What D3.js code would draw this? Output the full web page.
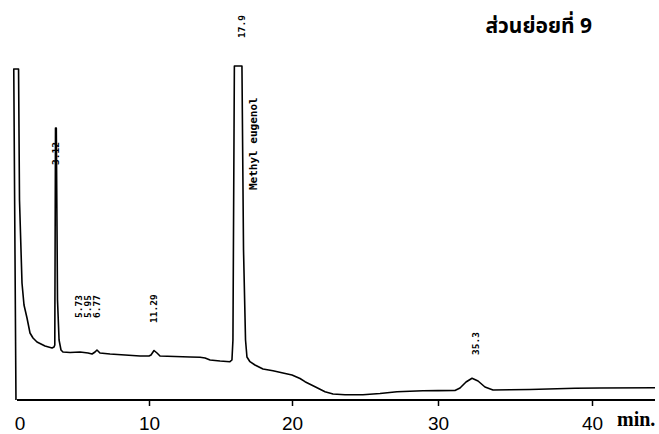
<!DOCTYPE html>
<html><head><meta charset="utf-8">
<script src="https://cdn.jsdelivr.net/npm/d3@7"></script>
<style>
html,body{margin:0;padding:0;background:#fff;}
svg{display:block;}
</style></head>
<body>
<svg id="chart" width="659" height="434"></svg>
<script>
// ---- data ----
const title = "ส่วนย่อยที่ 9";
const xTicks = [0, 10, 20, 30, 40];
const unitLabel = "min.";
// retention time (axis minutes)
const traceTime = [-0.28,-0.45,-0.08,-0.007,0.109,0.186,0.341,0.573,0.805,1.036,1.346,1.964,2.505,2.66,
  2.72,2.775,2.837,2.93,3.05,3.20,3.35,3.90,4.67,5.29,5.60,5.83,5.98,6.21,6.99,8.15,9.31,10,
  10.14,10.35,10.56,10.77,11.82,12.87,13.57,13.92,14.27,14.97,15.66,15.80,
  15.87,15.97,16.50,16.61,16.75,16.85,17.06,17.41,17.97,18.67,19.37,20,
  20.55,20.89,21.58,22.26,22.81,23.63,24.86,26.03,27.19,28.97,30,
  31.10,31.43,31.82,32.21,32.60,33.05,33.57,34.68,35.97,38.90,40.52,44.1];
// detector signal (arbitrary units, clipped at 334)
const traceSignal = [0,331,331,200,150,117,95,82,67,62,58,54,52,53,
  55,272,272,100,60,50,48,47.5,48,47,46,48,50,47,46,45,44,44,
  45,49.5,47,44,43.5,43,42.7,42,40,39,38.3,40,
  60,334,334,150,60,43,38.3,35,31,29.3,27,25,
  21.5,18.3,13.3,8.3,6,5.3,5.3,6.5,8.3,9.3,9.4,
  9.5,12,18,21.7,19,13,10,10.2,10.5,11.7,12,12.3];
const peakTimes = [2.81, 4.59, 5.29, 5.98, 10.35, 16.50, 32.47];
const peakLabels = ["3.12", "5.73", "5.95", "6.77", "11.29", "17.9", "35.3"];
const compoundTime = [17.3];
const compoundName = ["Methyl eugenol"];

// ---- drawing ----
const svg = d3.select("#chart");
const x = d3.scaleLinear()
  .domain([-0.2, 10, 20, 30, 40, 44.1])
  .range([17, 149, 292, 438, 592, 655]);
const y = d3.scaleLinear().domain([0, 334]).range([400, 66]);

// axis
const axis = d3.axisBottom(x).tickValues(xTicks).tickSize(6).tickFormat(d3.format("d"));
const gAx = svg.append("g").attr("transform", "translate(0,400)").call(axis);
gAx.select(".domain").attr("d", `M${x(-0.2)},0H${x(44.1)}`).attr("stroke", "#000").attr("stroke-width", 2);
gAx.selectAll(".tick line").attr("stroke", "#000").attr("stroke-width", 1.5)
  .filter(d => d === 0).remove();
gAx.selectAll(".tick text").attr("fill", "#000")
  .attr("font-family", "'Liberation Sans', Arial, sans-serif")
  .attr("font-size", 19).attr("y", 17).attr("dy", "0.71em");

svg.append("text").attr("x", 617).attr("y", 426)
  .attr("font-family", "'Liberation Serif', 'Times New Roman', serif")
  .attr("font-weight", "bold")
  .attr("font-size", 20).attr("fill", "#000").text(unitLabel);

// trace
const pts = traceTime.map((t, i) => [t, traceSignal[i]]);
svg.append("path").datum(pts)
  .attr("fill", "none").attr("stroke", "#000").attr("stroke-width", 1.6)
  .attr("stroke-linejoin", "round")
  .attr("d", d3.line().x(d => x(d[0])).y(d => y(d[1])).curve(d3.curveLinear));

// peak labels (rotated, reading upward)
const labelBottom = [165, 318, 318, 318, 323, 38, 355];
svg.append("g").selectAll("text").data(peakLabels).join("text")
  .attr("transform", (d, i) => `translate(${x(peakTimes[i])},${labelBottom[i]}) rotate(-90)`)
  .attr("dy", "0.35em")
  .attr("font-family", "'DejaVu Sans Mono', monospace")
  .attr("font-weight", "bold")
  .attr("font-size", 9.5).attr("fill", "#000")
  .text(d => d);

svg.append("g").selectAll("text").data(compoundName).join("text")
  .attr("transform", (d, i) => `translate(${x(compoundTime[i])},190) rotate(-90)`)
  .attr("dy", "0.35em")
  .attr("font-family", "'DejaVu Sans Mono', monospace")
  .attr("font-weight", "bold")
  .attr("font-size", 11).attr("fill", "#000")
  .text(d => d);

// title
svg.append("text").attr("x", 592).attr("y", 33).attr("text-anchor", "end")
  .attr("font-family", "'Noto Sans Thai', 'Noto Sans', 'DejaVu Sans', sans-serif")
  .attr("font-weight", "bold").attr("font-size", 21).attr("fill", "#000")
  .text(title);
</script>
</body></html>
